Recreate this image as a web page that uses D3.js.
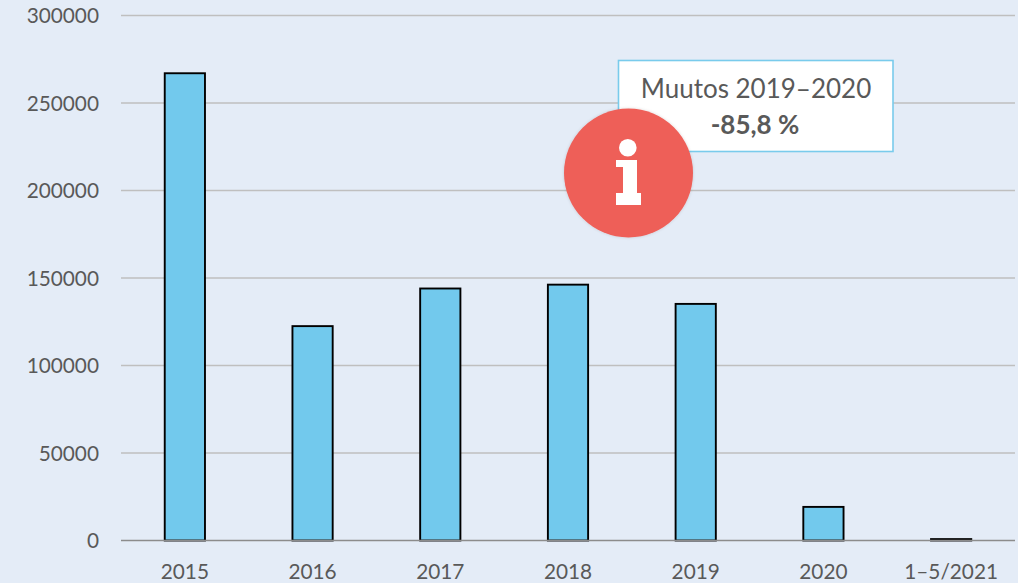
<!DOCTYPE html>
<html><head><meta charset="utf-8">
<script src="https://cdn.jsdelivr.net/npm/d3@7"></script>
<style>
html,body{margin:0;padding:0;background:#E4ECF7;overflow:hidden}
svg{display:block}
text{font-family:Lato,"Open Sans",sans-serif;fill:#595959}
</style></head><body><svg id="c" width="1018" height="583"></svg>
<script>
const categories=["2015","2016","2017","2018","2019","2020","1–5/2021"];
const visitors=[267000,122500,144000,146200,135200,19200,800];
const yTicks=[0,50000,100000,150000,200000,250000,300000];
const noteLines=["Muutos 2019–2020","-85,8 %"];

const svg=d3.select("#c");
const x=d3.scaleBand().domain(categories).range([121,1015]).paddingInner(0.685).paddingOuter(0.3425);
const y=d3.scaleLinear().domain([0,300000]).range([540.5,15.5]);

const defs=svg.append("defs");
const f=defs.append("filter").attr("id","sh").attr("x","-20%").attr("y","-20%").attr("width","140%").attr("height","140%");
f.append("feDropShadow").attr("dx",0).attr("dy",0).attr("stdDeviation",1.5).attr("flood-color","#000").attr("flood-opacity",0.15);

// gridlines
svg.append("g").selectAll("line").data(yTicks.filter(d=>d>0)).join("line")
  .attr("x1",121).attr("x2",1015).attr("y1",d=>y(d)).attr("y2",d=>y(d))
  .attr("stroke","#BFBFBF").attr("stroke-width",1.6);

// y labels
svg.append("g").selectAll("text").data(yTicks).join("text")
  .attr("x",99).attr("y",d=>y(d)+7.5).attr("text-anchor","end").attr("font-size",20.8)
  .text(d=>d);

// bars
svg.append("g").selectAll("rect").data(visitors).join("rect")
  .attr("x",(d,i)=>x(categories[i])).attr("width",x.bandwidth())
  .attr("y",d=>y(d)).attr("height",d=>y(0)-y(d))
  .attr("fill","#72C9ED").attr("stroke","#000").attr("stroke-width",1.9);

// baseline
svg.append("line").attr("x1",121).attr("x2",1015).attr("y1",y(0)).attr("y2",y(0))
  .attr("stroke","#8C8C8C").attr("stroke-width",1.6);

// x labels
svg.append("g").selectAll("text").data(categories).join("text")
  .attr("x",d=>x(d)+x.bandwidth()/2).attr("y",578.5).attr("text-anchor","middle").attr("font-size",20.8)
  .text(d=>d);

// note box
svg.append("rect").attr("x",618.5).attr("y",60.5).attr("width",274.5).attr("height",91)
  .attr("fill","#fff").attr("stroke","#79CBEC").attr("stroke-width",1.6);
svg.append("text").attr("x",756).attr("y",98).attr("text-anchor","middle").attr("font-size",26).text(noteLines[0]);
svg.append("text").attr("x",755).attr("y",134).attr("text-anchor","middle").attr("font-size",26).attr("font-weight",700).text(noteLines[1]);

// info icon
const icon=svg.append("g");
icon.append("circle").attr("cx",628.5).attr("cy",173).attr("r",64.5).attr("fill","#EE5F58").attr("filter","url(#sh)");
icon.append("circle").attr("cx",627.8).attr("cy",147.7).attr("r",8.8).attr("fill","#fff");
icon.append("path").attr("fill","#fff").attr("d","M616 160H637V193H641V205H616V193H623V167H616Z");
</script></body></html>
